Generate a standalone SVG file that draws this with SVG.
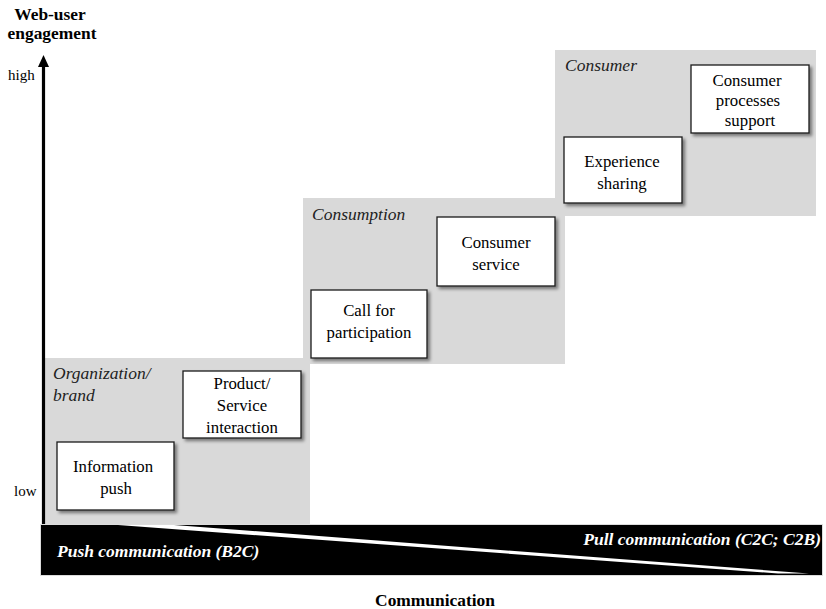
<svg xmlns="http://www.w3.org/2000/svg" width="826" height="609" viewBox="0 0 826 609">
  <defs>
    <filter id="shadow" x="-10%" y="-10%" width="125%" height="130%">
      <feDropShadow dx="2.5" dy="2.5" stdDeviation="1.5" flood-color="#000" flood-opacity="0.45"/>
    </filter>
  </defs>
  <style>
    text { font-family: "Liberation Serif", "Times New Roman", serif; fill: #000; }
    .axis-title { font-size: 17.4px; font-weight: bold; text-anchor: middle; }
    .tick { font-size: 15px; }
    .zone { fill: #d9d9d9; }
    .zone-label { font-size: 17.5px; font-style: italic; fill: #222; }
    .box rect { fill: #fff; stroke: #1a1a1a; stroke-width: 1.3; filter: url(#shadow); }
    .box text { font-size: 16.8px; text-anchor: middle; }
    .band-label { font-size: 17.5px; font-weight: bold; font-style: italic; fill: #fff; }
  </style>

  <rect width="826" height="609" fill="#fff"/>

  <!-- shaded zones -->
  <g id="zone-organization">
    <rect class="zone" x="44" y="358" width="266" height="166"/>
    <text class="zone-label" x="53" y="379">Organization/</text>
    <text class="zone-label" x="53" y="401">brand</text>
  </g>
  <g id="zone-consumption">
    <rect class="zone" x="303" y="198" width="262" height="166"/>
    <text class="zone-label" x="312" y="220">Consumption</text>
  </g>
  <g id="zone-consumer">
    <rect class="zone" x="555" y="50" width="261" height="166"/>
    <text class="zone-label" x="565" y="71">Consumer</text>
  </g>

  <!-- activity boxes -->
  <g id="information-push" class="box">
    <rect x="57" y="442" width="117" height="68"/>
    <text x="113" y="472">Information</text>
    <text x="116" y="494">push</text>
  </g>
  <g id="product-service-interaction" class="box">
    <rect x="183" y="371" width="118" height="67"/>
    <text x="242" y="389">Product/</text>
    <text x="242" y="411">Service</text>
    <text x="242" y="433">interaction</text>
  </g>
  <g id="call-for-participation" class="box">
    <rect x="311" y="290" width="116" height="68"/>
    <text x="369" y="316">Call  for</text>
    <text x="369" y="338">participation</text>
  </g>
  <g id="consumer-service" class="box">
    <rect x="437" y="217" width="118" height="69"/>
    <text x="496" y="248">Consumer</text>
    <text x="496" y="270">service</text>
  </g>
  <g id="experience-sharing" class="box">
    <rect x="564" y="137" width="118" height="66"/>
    <text x="622" y="167">Experience</text>
    <text x="622" y="189">sharing</text>
  </g>
  <g id="consumer-processes-support" class="box">
    <rect x="691" y="65" width="118" height="68"/>
    <text x="747" y="86">Consumer</text>
    <text x="748" y="106">processes</text>
    <text x="750" y="126">support</text>
  </g>

  <!-- vertical axis -->
  <g id="connectors">
    <line x1="43.5" y1="524" x2="43.5" y2="64" stroke="#000" stroke-width="3.2"/>
    <polygon points="43.5,55 38,67 49,67" fill="#000"/>
  </g>
  <g id="axis-labels">
    <text class="axis-title" x="50" y="20">Web-user</text>
    <text class="axis-title" x="52" y="39">engagement</text>
    <text class="tick" x="8" y="80">high</text>
    <text class="tick" x="14" y="496">low</text>
  </g>

  <!-- communication band -->
  <g id="communication-band">
    <rect x="40.5" y="524.5" width="782" height="51" fill="#000" stroke="#dcdcdc" stroke-width="1"/>
    <polygon points="118,525 174,525 809,573.5 778,573.5" fill="#fff"/>
    <text class="band-label" x="57" y="557">Push communication (B2C)</text>
    <text class="band-label" x="821" y="545" text-anchor="end">Pull communication (C2C; C2B)</text>
  </g>
  <text class="axis-title" x="435" y="606" font-size="16">Communication</text>
</svg>
